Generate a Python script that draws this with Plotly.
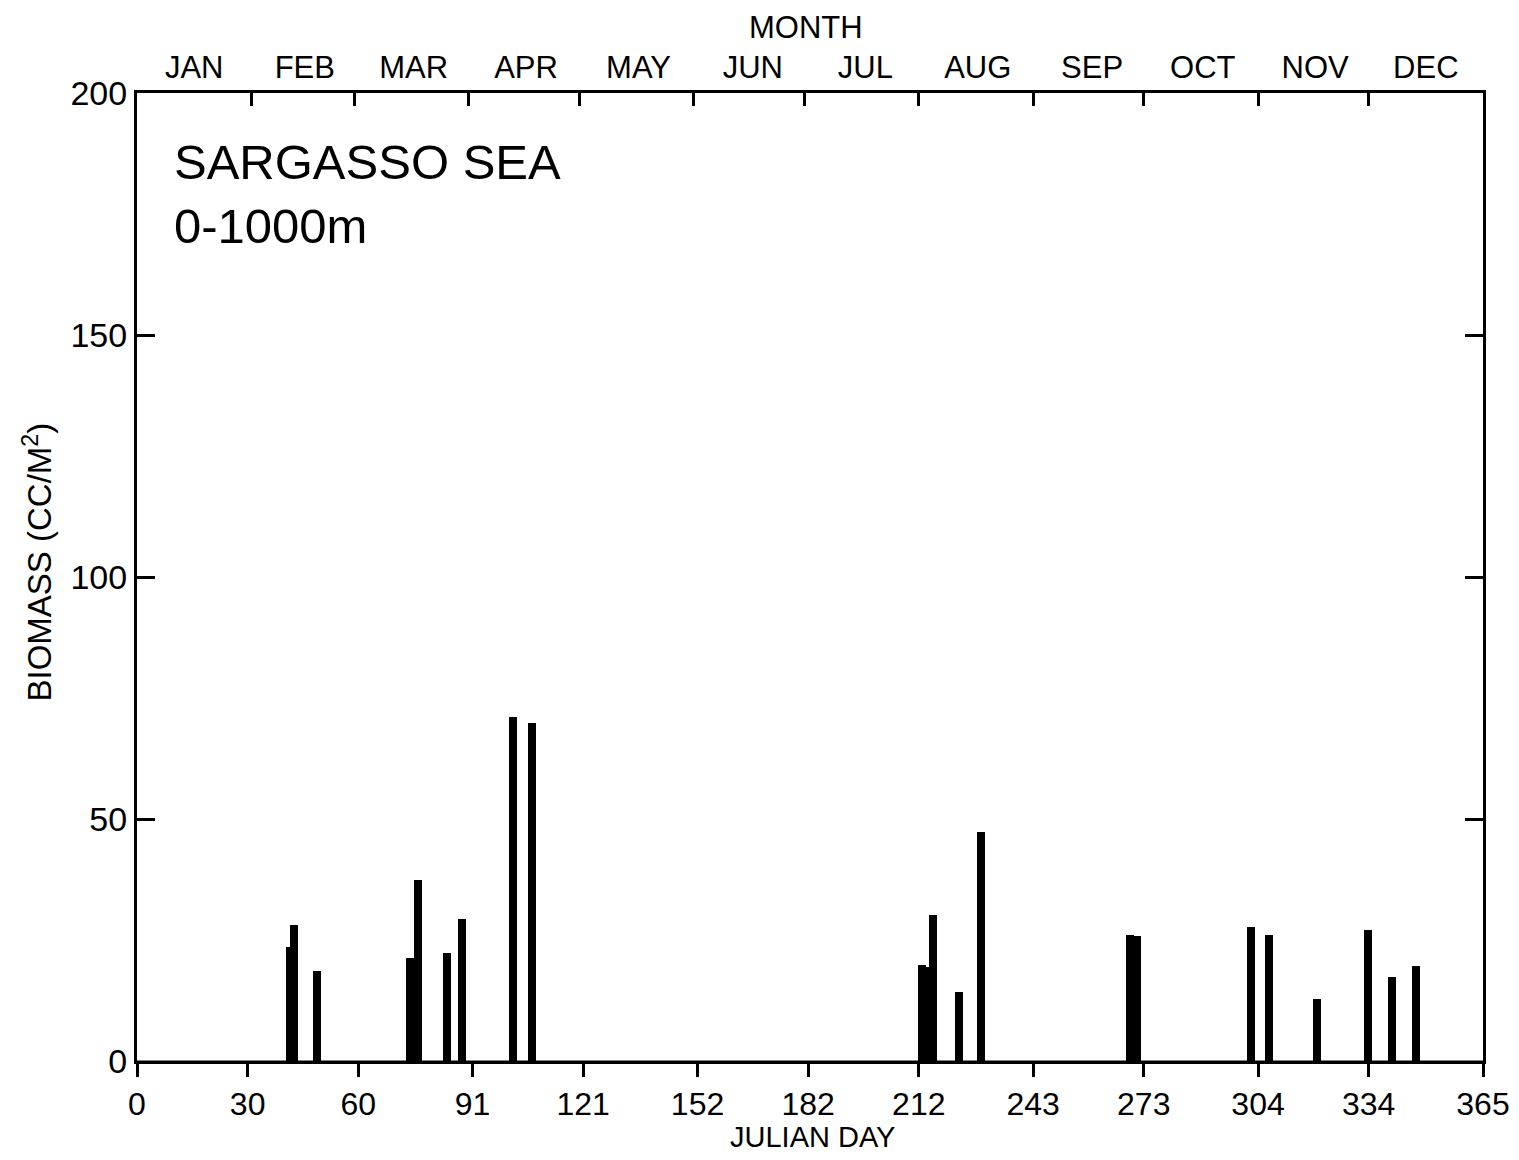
import plotly.graph_objects as go

# Julian day of each sample and its biomass (cc/m^2)
days = [41.5, 42.6, 48.8, 74.0, 76.2, 84.1, 88.1, 102.0, 107.1,
        212.8, 214.5, 215.8, 222.9, 228.9, 269.2, 271.1,
        302.0, 307.0, 320.0, 333.8, 340.3, 346.8]
biomass = [23.6, 28.1, 18.6, 21.2, 37.4, 22.3, 29.3, 71.1, 69.8,
           19.8, 19.4, 30.2, 14.3, 47.3, 26.0, 25.8,
           27.7, 26.0, 12.8, 27.1, 17.4, 19.6]

day_ticks = [0, 30, 60, 91, 121, 152, 182, 212, 243, 273, 304, 334, 365]
month_names = ["JAN", "FEB", "MAR", "APR", "MAY", "JUN", "JUL", "AUG",
               "SEP", "OCT", "NOV", "DEC"]
month_mids = [15.5, 45.5, 75, 105.5, 136, 167, 197.5, 228, 259, 289, 319.5, 349.5]
month_bounds = [31, 59, 90, 120, 151, 181, 212, 243, 273, 304, 334]
y_ticks = [0, 50, 100, 150, 200]

FONT = "Liberation Sans, Arial, sans-serif"

fig = go.Figure()
fig.add_trace(go.Bar(x=days, y=biomass, width=2.1,
                     marker=dict(color="black", line=dict(width=0)),
                     showlegend=False, hoverinfo="x+y"))
# trace on the top axis so it renders
fig.add_trace(go.Scatter(x=[0, 365], y=[0, 0], xaxis="x2", mode="lines",
                         line=dict(width=1, color="black"), showlegend=False,
                         hoverinfo="skip"))

# the page body adds an 8px margin, so the figure is sized to fit the window
fig.update_layout(
    width=1503, height=1144,
    margin=dict(l=129, r=28, t=85, b=91, autoexpand=False),
    paper_bgcolor="white", plot_bgcolor="white",
    font=dict(family=FONT, color="black"),
    bargap=0,
    xaxis=dict(range=[0, 365], tickmode="array", tickvals=day_ticks,
               ticktext=[str(d) for d in day_ticks], automargin=False,
               ticks="outside", ticklen=13, tickwidth=3, tickcolor="black",
               showline=True, linewidth=3, linecolor="black", mirror=True,
               showgrid=False, zeroline=False,
               tickfont=dict(size=32, family=FONT)),
    xaxis2=dict(range=[0, 365], overlaying="x", side="top", anchor="y",
                tickmode="array", tickvals=month_mids, ticktext=month_names,
                automargin=False,
                ticks="", showline=True, linewidth=3, linecolor="black",
                showgrid=False, zeroline=False,
                tickfont=dict(size=31, family=FONT),
                minor=dict(tickmode="array", tickvals=month_bounds,
                           ticks="inside", ticklen=13, tickwidth=3,
                           tickcolor="black", showgrid=False)),
    yaxis=dict(range=[0, 200], tickmode="array", tickvals=y_ticks,
               ticktext=[str(v) for v in y_ticks], automargin=False,
               ticks="inside", ticklen=18, tickwidth=3, tickcolor="black",
               showline=True, linewidth=3, linecolor="black", mirror="ticks",
               showgrid=False, zeroline=False,
               tickfont=dict(size=34, family=FONT)),
    annotations=[
        dict(text="MONTH", xref="paper", yref="paper", x=0.497, y=1.068,
             xanchor="center", yanchor="middle", showarrow=False,
             font=dict(size=31, family=FONT)),
        dict(text="JULIAN DAY", xref="paper", yref="paper", x=0.502, y=-0.078,
             xanchor="center", yanchor="middle", showarrow=False,
             font=dict(size=29, family=FONT)),
        dict(text="BIOMASS (CC/M<sup>2</sup>)", xref="paper", yref="paper",
             x=-0.0735, y=0.515, xanchor="center", yanchor="middle",
             textangle=-90, showarrow=False, font=dict(size=33, family=FONT)),
        dict(text="SARGASSO SEA<br>0-1000m", xref="paper", yref="paper",
             x=0.026, y=0.959, xanchor="left", yanchor="top", align="left",
             showarrow=False, font=dict(size=49, family=FONT)),
    ],
)

fig.write_html("out.html")
